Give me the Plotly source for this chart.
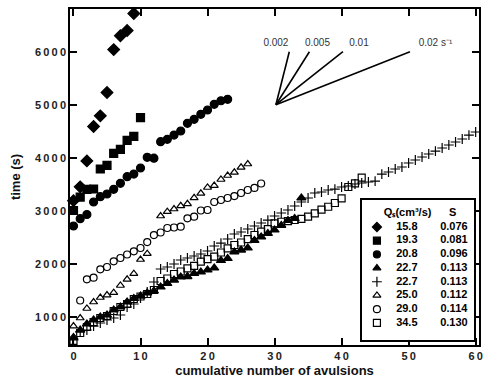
import plotly.graph_objects as go

# ---------------- data ----------------
# 15.8 cm3/s, S=0.076 (filled diamonds)
x_dia = [0, 1, 2, 3, 4, 5, 6, 7, 8, 9]
t_dia = [3190, 3450, 3940, 4590, 4790, 5230, 6040, 6300, 6400, 6720]

# 19.3 cm3/s, S=0.081 (filled squares)
x_sqf = [0, 1, 2, 3, 4, 5, 6, 7, 8, 9, 10]
t_sqf = [3004, 3258, 3404, 3410, 3787, 3857, 4083, 4158, 4328, 4404, 4755]

# 20.8 cm3/s, S=0.096 (filled circles)
x_cif = list(range(24))
t_cif = [2711, 2849, 2928, 3164, 3264, 3315, 3404, 3517, 3642, 3692, 3806, 4008,
         3991, 4302, 4347, 4428, 4504, 4649, 4725, 4819, 4900, 5008, 5075, 5102]

# 22.7 cm3/s, S=0.113 (filled triangles)
x_trf = list(range(35))
t_trf = [608, 749, 862, 938, 994, 1032, 1126, 1183, 1277, 1343, 1391, 1447, 1485,
         1560, 1626, 1692, 1749, 1758, 1815, 1843, 1881, 1919, 2060, 2098, 2221,
         2258, 2296, 2438, 2504, 2570, 2636, 2721, 2815, 2853, 3240]

# 22.7 cm3/s, S=0.113 (plus)
x_plus = list(range(61))
t_plus = [560, 711, 749, 824, 881, 938, 975, 1032, 1183, 1240, 1353, 1466, 1655,
          1900, 1938, 1994, 2070, 2108, 2145, 2183, 2240, 2334, 2390, 2466, 2560,
          2598, 2655, 2711, 2768, 2824, 2900, 2957, 3013, 3089, 3164, 3240, 3334,
          3353, 3391, 3409, 3447, 3466, 3504, 3523, 3542, 3560, 3692, 3730, 3787,
          3825, 3900, 3957, 4013, 4070, 4126, 4183, 4240, 4296, 4353, 4428, 4485]

# 25.0 cm3/s, S=0.112 (open triangles)
x_tro = [0, 1, 2, 3, 4, 5, 6, 7, 8, 9, 10, 11, 13, 14, 15, 16, 17, 18, 19, 20,
         21, 22, 23, 24, 25, 26]
t_tro = [824, 975, 1155, 1277, 1362, 1408, 1453, 1589, 1706, 1811, 2079, 2189,
         2900, 2981, 3032, 3092, 3130, 3243, 3328, 3438, 3475, 3589, 3664, 3725,
         3819, 3881]

# 29.0 cm3/s, S=0.114 (open circles)
x_cio = list(range(1, 29))
t_cio = [1306, 1706, 1736, 1894, 1938, 2045, 2108, 2174, 2234, 2296, 2409, 2540,
         2589, 2674, 2683, 2698, 2857, 2887, 3004, 3013, 3164, 3202, 3240, 3277,
         3334, 3391, 3430, 3513]

# 34.5 cm3/s, S=0.130 (open squares)
x_sqo = list(range(44))
t_sqo = [542, 692, 806, 900, 975, 1013, 1108, 1183, 1240, 1334, 1381, 1428, 1504,
         1674, 1721, 1806, 1853, 1913, 1960, 2038, 2085, 2132, 2211, 2291, 2353,
         2400, 2462, 2542, 2604, 2651, 2762, 2792, 2802, 2825, 2847, 2887, 2951,
         3019, 3075, 3145, 3234, 3447, 3517, 3623]

# legend table
leg_q = ["15.8", "19.3", "20.8", "22.7", "22.7", "25.0", "29.0", "34.5"]
leg_s = ["0.076", "0.081", "0.096", "0.113", "0.113", "0.112", "0.114", "0.130"]
leg_symbols = ["diamond", "square", "circle", "triangle-up", "cross-thin",
               "triangle-up-open", "circle-open", "square-open"]
leg_header = ["Q\u209b(cm\u00b3/s)", "S"]

# reference rate fan (s^-1)
fan_rates = [0.002, 0.005, 0.01, 0.02]
fan_labels = ["0.002", "0.005", "0.01", "0.02 s\u207b\u00b9"]
fan_label_x = [30.2, 36.4, 42.6, 54.0]
fan_label_y = 6150
fan_origin = (30.2, 5000)
fan_rise = 1000

x_ticks = [0, 10, 20, 30, 40, 50, 60]
y_ticks = [1000, 2000, 3000, 4000, 5000, 6000]

# ---------------- figure ----------------
FONT = "Liberation Sans"
TS = "\u2009"
fig = go.Figure()

series = [
    (x_dia, t_dia, "diamond", 9),
    (x_sqf, t_sqf, "square", 8),
    (x_cif, t_cif, "circle", 8),
    (x_trf, t_trf, "triangle-up", 8),
    (x_plus, t_plus, "cross-thin", 7),
    (x_tro, t_tro, "triangle-up-open", 7),
    (x_cio, t_cio, "circle-open", 7),
    (x_sqo, t_sqo, "square-open", 7),
]
for xs, ts, sym, sz in series:
    fig.add_trace(go.Scatter(
        x=xs, y=ts, mode="markers", showlegend=False, cliponaxis=False,
        marker=dict(symbol=sym, size=sz, color="black",
                    line=dict(color="black", width=1.2))))

# fan of reference slopes
x0, y0 = fan_origin
for r in fan_rates:
    fig.add_trace(go.Scatter(
        x=[x0, x0 + fan_rise * r], y=[y0, y0 + fan_rise], mode="lines",
        showlegend=False, line=dict(color="black", width=1.6)))
fig.add_trace(go.Scatter(
    x=fan_label_x, y=[fan_label_y] * len(fan_labels), mode="text",
    text=fan_labels, textposition="middle center", showlegend=False,
    cliponaxis=False,
    textfont=dict(family=FONT, size=10, color="#333")))

# legend table on its own small axes
rows = list(range(1, 9))
fig.add_trace(go.Scatter(
    x=[0.133] * 8, y=rows, mode="markers", xaxis="x2", yaxis="y2",
    showlegend=False,
    marker=dict(symbol=leg_symbols, size=7, color="black",
                line=dict(color="black", width=1.2))))
fig.add_trace(go.Scatter(
    x=[0.40] * 8, y=rows, mode="text", text=leg_q, xaxis="x2", yaxis="y2",
    showlegend=False,
    textfont=dict(family=FONT, size=11, color="black", weight="bold")))
fig.add_trace(go.Scatter(
    x=[0.82] * 8, y=rows, mode="text", text=leg_s, xaxis="x2", yaxis="y2",
    showlegend=False,
    textfont=dict(family=FONT, size=11, color="black", weight="bold")))
fig.add_trace(go.Scatter(
    x=[0.407, 0.81], y=[0, 0], mode="text", text=leg_header,
    xaxis="x2", yaxis="y2", showlegend=False,
    textfont=dict(family=FONT, size=11, color="black", weight="bold")))

axis_common = dict(showgrid=False, zeroline=False, showline=True,
                   linecolor="black", linewidth=1.6, mirror="ticks",
                   ticks="inside", ticklen=7, tickwidth=1.5,
                   tickcolor="black")

fig.update_layout(
    width=486, height=379,
    margin=dict(l=70, r=3, t=9, b=34),
    paper_bgcolor="white", plot_bgcolor="white",
    font=dict(family=FONT, color="#222"),
    xaxis=dict(range=[-0.52, 60.5], tickvals=x_ticks,
               ticktext=[TS.join(str(v)) for v in x_ticks],
               tickfont=dict(family=FONT, size=11, color="#222", weight="bold"),
               title=dict(text="cumulative number of avulsions", standoff=5,
                          font=dict(family=FONT, size=13, color="#111",
                                    weight="bold")),
               **axis_common),
    yaxis=dict(range=[466, 6806], tickvals=y_ticks,
               ticktext=[TS.join(str(v)) for v in y_ticks],
               tickfont=dict(family=FONT, size=11, color="#222", weight="bold"),
               title=dict(text="time (s)", standoff=11,
                          font=dict(family=FONT, size=13, color="#111",
                                    weight="bold")),
               **axis_common),
    xaxis2=dict(domain=[0.714, 0.988], anchor="y2", range=[0, 1],
                showgrid=False, zeroline=False, showticklabels=False,
                ticks="", showline=True, mirror=True, linecolor="black",
                linewidth=1.6),
    yaxis2=dict(domain=[0.015, 0.4315], anchor="x2", range=[9.25, -0.97],
                showgrid=False, zeroline=False, showticklabels=False,
                ticks="", showline=True, mirror=True, linecolor="black",
                linewidth=1.6),
)

fig.write_html("out.html")
